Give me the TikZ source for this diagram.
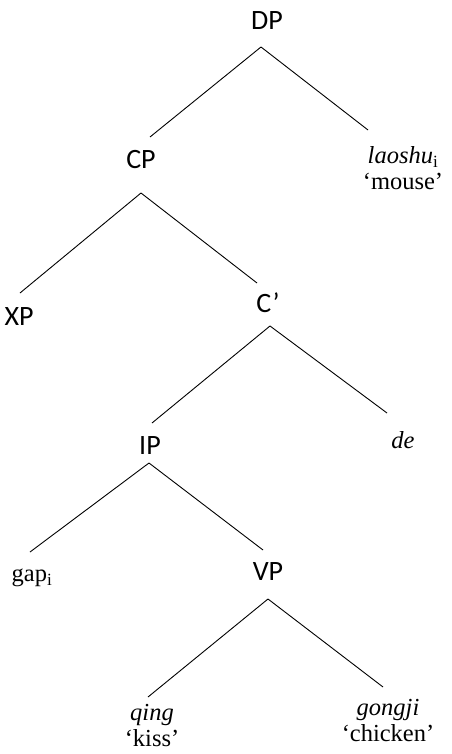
\documentclass[tikz,border=0pt]{standalone}
\usepackage{fontspec}
\setmainfont{Liberation Serif}
\newfontfamily\catfont{Carlito}
\usetikzlibrary{calc}

\tikzset{
    cat/.style={font=\catfont\fontsize{28}{32}\selectfont, inner sep=0pt},
    word/.style={font=\fontsize{24.5}{26}\selectfont, inner sep=0pt, align=center},
    branch/.style={line width=0.9pt}
}

\begin{document}
\begin{tikzpicture}[x=1pt, y=-1pt]
    \useasboundingbox (0,0) rectangle (451,754);

    \node [cat] (dp) at (267,21) {DP};
    \node [cat] (cp) at (141,160) {CP};
    \node [word] (laoshu) at (403,168) {\textit{laoshu}\textsubscript{i}\\‘mouse’};
    \node [cat] (xp) at (19,317) {XP};
    \node [cat] (cbar) at (268,303) {C’};
    \node [cat] (ip) at (150,446) {IP};
    \node [word] (de) at (403,440) {\textit{de}};
    \node [word] (gap) at (32,578) {gap\textsubscript{i}};
    \node [cat] (vp) at (268,572) {VP};
    \node [word] (qing) at (152,725) {\textit{qing}\\‘kiss’};
    \node [word] (gongji) at (388,720) {\textit{gongji}\\‘chicken’};

    \draw[branch] ($(dp)+(-6,26)$) -- ($(cp)+(9,-23)$);
    \draw[branch] ($(dp)+(-6,26)$) -- ($(laoshu)+(-35,-38)$);

    \draw[branch] ($(cp)+(0,33)$) -- ($(xp)+(1,-24)$);
    \draw[branch] ($(cp)+(0,33)$) -- ($(cbar)+(-11,-20)$);

    \draw[branch] ($(cbar)+(2,23)$) -- ($(ip)+(2,-23)$);
    \draw[branch] ($(cbar)+(2,23)$) -- ($(de)+(-16,-27)$);

    \draw[branch] ($(ip)+(-1,17)$) -- ($(gap)+(-2,-26)$);
    \draw[branch] ($(ip)+(-1,17)$) -- ($(vp)+(-5,-22)$);

    \draw[branch] ($(vp)+(0,27)$) -- ($(qing)+(-4,-28)$);
    \draw[branch] ($(vp)+(0,27)$) -- ($(gongji)+(-5,-33)$);

\end{tikzpicture}
\end{document}
